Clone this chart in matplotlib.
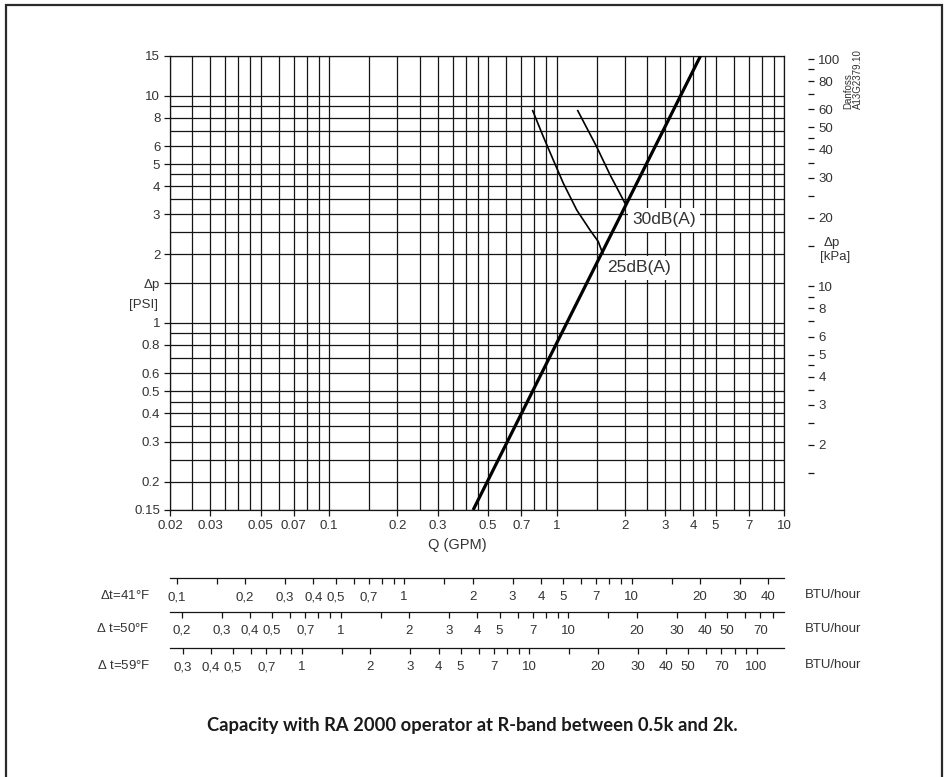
import matplotlib
matplotlib.use('Agg')
import matplotlib.pyplot as plt
from matplotlib.ticker import FixedLocator, FixedFormatter, NullFormatter
from matplotlib.patches import Rectangle

plt.rcParams['font.family'] = ['Liberation Sans', 'DejaVu Sans']
plt.rcParams['mathtext.fontset'] = 'custom'
plt.rcParams['mathtext.it'] = 'DejaVu Sans:italic'
plt.rcParams['mathtext.rm'] = 'Liberation Sans'

TXT = '#333333'
DP = r'$\mathit{\Delta}$p'

# main grid (Q in GPM, dp in PSI)
q_grid = [0.02, 0.025, 0.03, 0.035, 0.04, 0.045, 0.05, 0.06, 0.07, 0.08, 0.09,
          0.1, 0.15, 0.2, 0.25, 0.3, 0.35, 0.4, 0.45, 0.5, 0.6, 0.7, 0.8, 0.9,
          1, 1.5, 2, 2.5, 3, 3.5, 4, 4.5, 5, 6, 7, 8, 9, 10]
q_ticks = [0.02, 0.03, 0.05, 0.07, 0.1, 0.2, 0.3, 0.5, 0.7, 1, 2, 3, 4, 5, 7, 10]
q_labels = ['0.02', '0.03', '0.05', '0.07', '0.1', '0.2', '0.3', '0.5', '0.7',
            '1', '2', '3', '4', '5', '7', '10']
dp_grid = [0.15, 0.2, 0.25, 0.3, 0.35, 0.4, 0.45, 0.5, 0.6, 0.7, 0.8, 0.9, 1,
           1.5, 2, 2.5, 3, 3.5, 4, 4.5, 5, 6, 7, 8, 9, 10, 15]
dp_ticks = [0.15, 0.2, 0.3, 0.4, 0.5, 0.6, 0.8, 1, 1.5, 2, 3, 4, 5, 6, 8, 10, 15]
dp_labels = ['0.15', '0.2', '0.3', '0.4', '0.5', '0.6', '0.8', '1', DP, '2', '3',
             '4', '5', '6', '8', '10', '15']

# right axis in kPa
kpa_per_psi = 6.895
kpa_ticks = [1, 1.5, 2, 2.5, 3, 3.5, 4, 4.5, 5, 6, 7, 8, 9, 10, 15, 20, 25, 30,
             35, 40, 45, 50, 60, 70, 80, 90, 100]
kpa_labeled = {1: '1', 2: '2', 3: '3', 4: '4', 5: '5', 6: '6', 8: '8', 10: '10',
               20: '20', 30: '30', 40: '40', 50: '50', 60: '60', 80: '80', 100: '100'}

# valve characteristic line and noise limits
valve_q = [0.43, 4.3]
valve_dp = [0.15, 15]
db25_q = [0.786, 0.875, 0.968, 1.071, 1.227, 1.404, 1.526, 1.596]
db25_dp = [8.59, 6.60, 5.21, 4.12, 3.14, 2.56, 2.28, 2.02]
db30_q = [1.24, 1.50, 1.72, 2.02]
db30_dp = [8.59, 5.97, 4.48, 3.30]

# capacity scales (BTU/hour per GPM for each delta t)
row_names = [r'$\mathit{\Delta}$t=41°F', r'$\mathit{\Delta}$ t=50°F', r'$\mathit{\Delta}$ t=59°F']
row_factor = [4.68, 8.9, 13.2]
row_ticks = [
    [0.1, 0.15, 0.2, 0.3, 0.4, 0.5, 0.6, 0.7, 0.8, 0.9, 1, 1.5, 2, 3, 4, 5, 6, 7,
     8, 9, 10, 15, 20, 30, 40],
    [0.2, 0.3, 0.4, 0.5, 0.6, 0.7, 0.8, 0.9, 1, 1.5, 2, 3, 4, 5, 6, 7, 8, 9, 10,
     15, 20, 30, 40, 50, 60, 70, 80, 90],
    [0.3, 0.4, 0.5, 0.6, 0.7, 0.8, 0.9, 1, 1.5, 2, 3, 4, 5, 6, 7, 8, 9, 10, 15,
     20, 30, 40, 50, 60, 70, 80, 90, 100],
]
row_labeled = [
    [0.1, 0.2, 0.3, 0.4, 0.5, 0.7, 1, 2, 3, 4, 5, 7, 10, 20, 30, 40],
    [0.2, 0.3, 0.4, 0.5, 0.7, 1, 2, 3, 4, 5, 7, 10, 20, 30, 40, 50, 70],
    [0.3, 0.4, 0.5, 0.7, 1, 2, 3, 4, 5, 7, 10, 20, 30, 40, 50, 70, 100],
]

W, H = 945, 777
fig = plt.figure(figsize=(W / 100, H / 100), dpi=100)


def fx(px):
    return px / W


def fy(py):
    return 1 - py / H


ax = fig.add_axes([fx(170), fy(510), fx(784) - fx(170), fy(55.7) - fy(510)])
ax.set_xscale('log')
ax.set_yscale('log')
ax.set_xlim(0.02, 10)
ax.set_ylim(0.15, 15)

for q in q_grid:
    ax.axvline(q, color='#151515', lw=0.9, zorder=1)
for p in dp_grid:
    ax.axhline(p, color='#151515', lw=0.9, zorder=1)

ax.xaxis.set_major_locator(FixedLocator(q_ticks))
ax.xaxis.set_major_formatter(FixedFormatter(q_labels))
ax.xaxis.set_minor_formatter(NullFormatter())
ax.yaxis.set_major_locator(FixedLocator(dp_ticks))
ax.yaxis.set_major_formatter(FixedFormatter(dp_labels))
ax.yaxis.set_minor_formatter(NullFormatter())
ax.tick_params(which='minor', length=0)
ax.tick_params(which='major', length=4, width=0.9, color='#151515',
               labelsize=9.5, labelcolor=TXT, pad=3)
for s in ax.spines.values():
    s.set_linewidth(0.9)
    s.set_color('#151515')
fig.text(fx(457), fy(545), 'Q (GPM)', fontsize=10.5, color=TXT, ha='center', va='center')

ax.plot(valve_q, valve_dp, color='black', lw=2.3, zorder=5, solid_capstyle='butt')
ax.plot(db25_q, db25_dp, color='black', lw=1.2, zorder=4)
ax.plot(db30_q, db30_dp, color='black', lw=1.2, zorder=4)

box = dict(boxstyle='square,pad=0.25', fc='white', ec='none')
ax.text(2.15, 2.84, '30dB(A)', fontsize=12.5, color=TXT, ha='left', va='center',
        bbox=box, zorder=3)
ax.text(1.67, 1.745, '25dB(A)', fontsize=12.5, color=TXT, ha='left', va='center',
        bbox=box, zorder=3)

# right kPa axis
ax2 = ax.twinx()
ax2.set_yscale('log')
ax2.set_ylim(0.15 * kpa_per_psi, 15 * kpa_per_psi)
ax2.yaxis.set_major_locator(FixedLocator(kpa_ticks))
ax2.yaxis.set_major_formatter(FixedFormatter([kpa_labeled.get(v, '') for v in kpa_ticks]))
ax2.yaxis.set_minor_locator(FixedLocator([]))
for s in ax2.spines.values():
    s.set_visible(False)
ax2.spines['right'].set_position(('outward', 17.3))
ax2.tick_params(axis='y', which='major', length=4.5, width=0.9, color='#151515',
                labelsize=9.5, labelcolor=TXT, pad=3)

fig.text(fx(158), fy(305), '[PSI]', fontsize=9.5, color=TXT, ha='right', va='center')
fig.text(fx(823), fy(243), DP, fontsize=9.5, color=TXT, ha='left', va='center')
fig.text(fx(820), fy(257), '[kPa]', fontsize=9.5, color=TXT, ha='left', va='center')
fig.text(fx(853), fy(109), 'Danfoss\nA13G2379.10', fontsize=7, color=TXT,
         rotation=90, ha='center', va='bottom', multialignment='left',
         linespacing=1.0)

# capacity rows
row_line_y = [578.3, 611.7, 648.3]
for name, k, ticks, labeled, ly in zip(row_names, row_factor, row_ticks,
                                       row_labeled, row_line_y):
    rax = fig.add_axes([fx(170), fy(ly), fx(784) - fx(170), 0.001])
    rax.set_xscale('log')
    rax.set_xlim(0.02 * k, 10 * k)
    rax.set_yticks([])
    for side in ['top', 'left', 'right']:
        rax.spines[side].set_visible(False)
    rax.spines['bottom'].set_linewidth(0.9)
    rax.spines['bottom'].set_color('#151515')
    rax.xaxis.set_major_locator(FixedLocator(ticks))
    rax.xaxis.set_major_formatter(FixedFormatter(
        [('%g' % v).replace('.', ',') if v in labeled else '' for v in ticks]))
    rax.xaxis.set_minor_locator(FixedLocator([]))
    rax.tick_params(axis='x', length=4.5, width=0.9, color='#151515',
                    labelsize=9.5, labelcolor=TXT, pad=5)
    rax.patch.set_visible(False)
    fig.text(fx(150), fy(ly + 17), name, fontsize=9.5, color=TXT, ha='right', va='center')
    fig.text(fx(805), fy(ly + 17), 'BTU/hour', fontsize=9.5, color=TXT, ha='left', va='center')

fig.text(fx(472), fy(726), 'Capacity with RA 2000 operator at R-band between 0.5k and 2k.',
         fontsize=13.2, fontweight='bold', family=['Lato', 'DejaVu Sans'],
         color='#1a1a1a', ha='center', va='center')

fig.add_artist(Rectangle((fx(6), -0.02), fx(942) - fx(6), fy(4.5) + 0.02,
                         transform=fig.transFigure, fill=False, lw=1.6,
                         ec='#2a2a2a'))

fig.savefig('out.png', dpi=100)
